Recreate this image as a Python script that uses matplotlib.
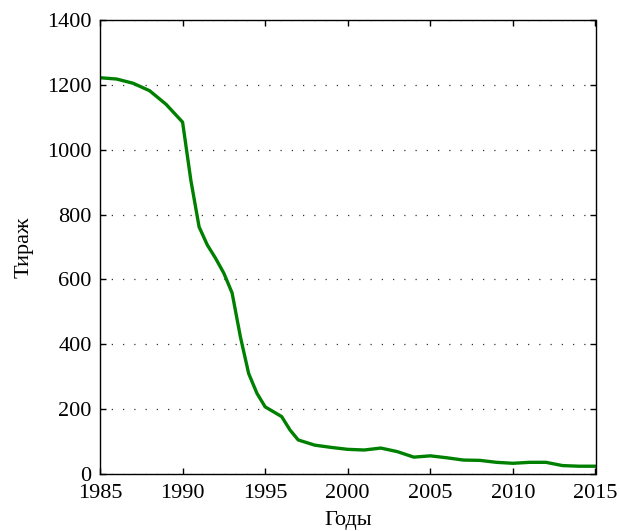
import matplotlib
matplotlib.use("Agg")
import matplotlib.pyplot as plt

# circulation by year
years = [1985, 1986, 1987, 1988, 1989, 1990, 1990.5, 1991, 1991.5, 1992,
         1992.5, 1993, 1993.5, 1994, 1994.5, 1995, 1995.5, 1996, 1996.5,
         1997, 1998, 1999, 2000, 2001, 2002, 2003, 2004, 2005, 2006, 2007,
         2008, 2009, 2010, 2011, 2012, 2013, 2014, 2015]
circulation = [1222, 1218, 1205, 1182, 1140, 1085, 906, 762, 706, 665,
               619, 558, 423, 310, 249, 207, 192, 177, 136,
               105, 89, 82, 76, 74, 80, 69, 52, 56, 50, 43,
               42, 36, 33, 36, 36, 26, 24, 24]

xticks = [1985, 1990, 1995, 2000, 2005, 2010, 2015]
yticks = [0, 200, 400, 600, 800, 1000, 1200, 1400]

plt.rcParams["font.family"] = ["Liberation Serif", "DejaVu Serif"]
plt.rcParams["font.size"] = 16

fig = plt.figure(figsize=(6.2, 5.31), dpi=100)
ax = fig.add_axes([100 / 620, 1 - 474 / 531, 495.5 / 620, 454 / 531])

ax.plot(years, circulation, color=(0, 0.5, 0), lw=2.4, solid_joinstyle="round")

ax.set_xlim(1985, 2015)
ax.set_ylim(0, 1400)
ax.set_xticks(xticks)
ax.set_yticks(yticks)
ax.tick_params(direction="in", top=True, right=True, length=4, width=1,
               labelsize=16)
ax.tick_params(axis="x", pad=7)
ax.tick_params(axis="y", pad=6)
for s in ax.spines.values():
    s.set_linewidth(1.0)

ax.yaxis.grid(True, color="0.2", lw=0.9, linestyle=(0, (1, 8)))
ax.set_axisbelow(True)

ax.set_xlabel("Годы", fontsize=16, labelpad=6)
ax.set_ylabel("Тираж", fontsize=16, labelpad=10)

fig.savefig("out.png", dpi=100)
